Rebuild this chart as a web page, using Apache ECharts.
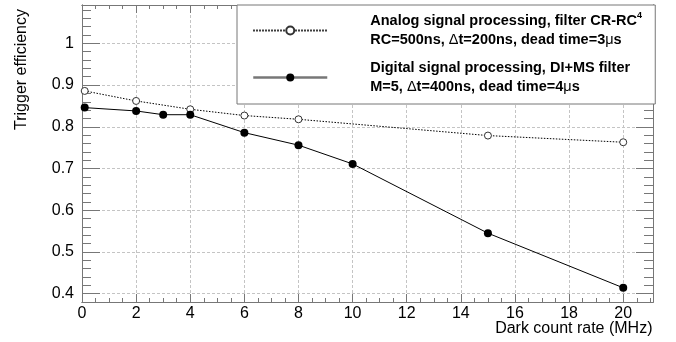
<!DOCTYPE html>
<html>
<head>
<meta charset="utf-8">
<script src="https://cdn.jsdelivr.net/npm/echarts@6/dist/echarts.min.js"></script>
<style>
  html, body { margin: 0; padding: 0; background: #fff; }
  #chart { width: 676px; height: 342px; }
</style>
</head>
<body>
<div id="chart"></div>
<script>
// values
const rateAnalog = [0.1, 2, 4, 6, 8, 15, 20]
const effAnalog = [0.886, 0.862, 0.842, 0.827, 0.818, 0.779, 0.763]
const rateDigital = [0.1, 2, 3, 4, 6, 8, 10, 15, 20]
const effDigital = [0.846, 0.838, 0.829, 0.829, 0.786, 0.756, 0.711, 0.545, 0.414]

const seriesNames = ['Analog', 'Digital']
const legendLines = [
  ['{t|Analog signal processing, filter CR-RC}{s|4}', '{t|RC=500ns, }{g|Δ}{t|t=200ns, dead time=3}{g|μ}{t|s}'],
  ['{t|Digital signal processing, DI+MS filter}', '{t|M=5, }{g|Δ}{t|t=400ns, dead time=4}{g|μ}{t|s}']
]
const xTitle = 'Dark count rate (MHz)'
const yTitle = 'Trigger efficiency'

const FONT = '"Liberation Sans", Arial, sans-serif'
const GRAY = '#777'
const X_MIN = 0, X_MAX = 21.1
const Y_MIN = 0.38, Y_MAX = 1.092

const zip = (xs, ys) => xs.map((x, i) => [x, ys[i]])

const isMultiple = (v, step) => Math.abs(v / step - Math.round(v / step)) < 1e-6

// plain tick-only axis used for the minor ticks and the mirrored top/right ticks
const tickAxis = (position, min, max, step, len) => ({
  type: 'value',
  position,
  min,
  max,
  interval: step,
  axisLine: { show: true, onZero: false, lineStyle: { color: GRAY, width: 1 } },
  axisTick: { show: true, inside: true, length: len, lineStyle: { color: GRAY, width: 1 } },
  axisLabel: { show: false },
  splitLine: { show: false }
})

const chart = echarts.init(document.getElementById('chart'), null, { renderer: 'canvas' })

const option = {
  animation: false,
  backgroundColor: '#fff',
  grid: { left: 82, right: 23, top: 5, bottom: 40, outerBoundsMode: 'none' },
  xAxis: [
    {
      type: 'value',
      position: 'bottom',
      min: X_MIN,
      max: X_MAX,
      interval: 2,
      axisLine: { show: true, onZero: false, lineStyle: { color: GRAY, width: 1 } },
      axisTick: { show: true, inside: true, length: 8, lineStyle: { color: GRAY } },
      axisLabel: {
        margin: 4,
        color: '#000',
        fontSize: 16,
        fontFamily: FONT,
        formatter: v => (isMultiple(v, 2) ? String(Math.round(v)) : '')
      },
      splitLine: { show: true, lineStyle: { color: '#c4c4c4', width: 1, type: [3, 2] } }
    },
    tickAxis('bottom', X_MIN, X_MAX, 0.5, 4),
    tickAxis('top', X_MIN, X_MAX, 2, 8),
    tickAxis('top', X_MIN, X_MAX, 0.5, 4)
  ],
  yAxis: [
    {
      type: 'value',
      position: 'left',
      min: Y_MIN,
      max: Y_MAX,
      splitNumber: 7,
      axisLine: { show: true, onZero: false, lineStyle: { color: GRAY, width: 1 } },
      axisTick: { show: true, inside: true, length: 18, lineStyle: { color: GRAY } },
      axisLabel: {
        margin: 8,
        color: '#000',
        fontSize: 16,
        fontFamily: FONT,
        formatter: v => (isMultiple(v, 0.1) ? String(Math.round(v * 10) / 10) : '')
      },
      splitLine: { show: true, lineStyle: { color: '#c4c4c4', width: 1, type: [3, 2] } }
    },
    tickAxis('left', Y_MIN, Y_MAX, 0.02, 9),
    tickAxis('right', Y_MIN, Y_MAX, 0.02, 9),
    { ...tickAxis('right', Y_MIN, Y_MAX, 0.1, 17), interval: null, splitNumber: 7 }
  ],
  legend: {
    orient: 'vertical',
    left: 237,
    top: 5,
    padding: [6, 9, 7, 15],
    itemGap: 8,
    itemWidth: 74,
    itemHeight: 10,
    selectedMode: false,
    backgroundColor: '#fff',
    borderColor: GRAY,
    borderWidth: 1,
    data: [
      { name: seriesNames[0] },
      { name: seriesNames[1], lineStyle: { color: '#777', width: 2.5 } }
    ],
    formatter: name => legendLines[seriesNames.indexOf(name)].join('\n'),
    textStyle: {
      padding: [0, 0, 0, 38],
      width: 276,
      lineHeight: 19.5,
      rich: {
        t: { fontSize: 14.5, fontWeight: 'bold', fontFamily: FONT, color: '#000', lineHeight: 19.5 },
        s: { fontSize: 9, fontWeight: 'bold', fontFamily: FONT, color: '#000', verticalAlign: 'top', lineHeight: 19.5 },
        g: { fontSize: 14.5, fontWeight: 'normal', fontFamily: FONT, color: '#000', lineHeight: 19.5 }
      }
    }
  },
  graphic: [
    {
      type: 'text',
      x: 652.5,
      y: 329,
      style: { text: xTitle, align: 'right', verticalAlign: 'middle', fontSize: 16, fontFamily: FONT, fill: '#000' }
    },
    {
      type: 'text',
      x: 22,
      y: 9,
      rotation: Math.PI / 2,
      style: { text: yTitle, align: 'right', verticalAlign: 'middle', fontSize: 16, fontFamily: FONT, fill: '#000' }
    }
  ],
  series: [
    {
      name: seriesNames[0],
      type: 'line',
      data: zip(rateAnalog, effAnalog),
      symbol: 'circle',
      symbolSize: 7,
      showAllSymbol: true,
      lineStyle: { color: '#000', width: 1, type: [1.5, 1.5] },
      itemStyle: { color: '#fff', borderColor: '#333', borderWidth: 1 },
      z: 3
    },
    {
      name: seriesNames[1],
      type: 'line',
      data: zip(rateDigital, effDigital),
      symbol: 'circle',
      symbolSize: 8,
      showAllSymbol: true,
      lineStyle: { color: '#000', width: 1 },
      itemStyle: { color: '#000' },
      z: 4
    }
  ]
}

chart.setOption(option)
window.addEventListener('resize', () => chart.resize())
</script>
</body>
</html>
